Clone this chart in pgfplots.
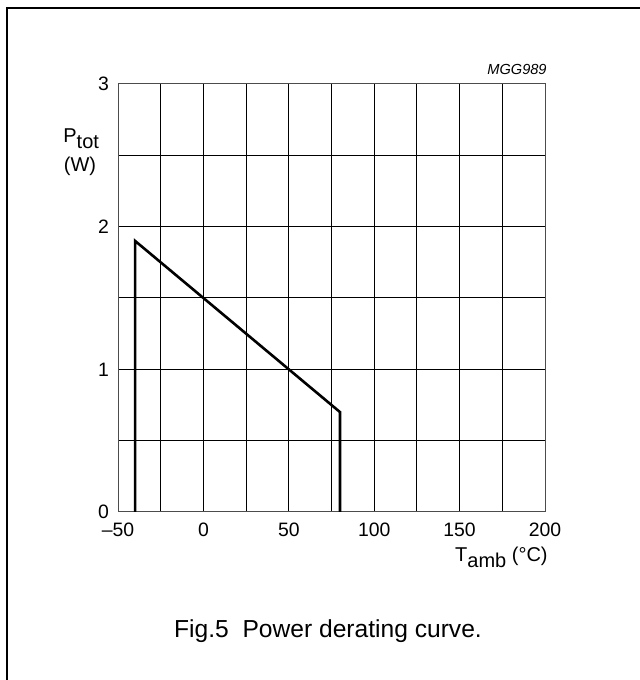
\documentclass[border=0pt]{standalone}
\usepackage{pgfplots}
\pgfplotsset{compat=1.18}
\usepackage{fontspec}
\setmainfont{Liberation Sans}

% subscript set at full size, only lowered, as in the reference
\newcommand{\lsub}[1]{\raisebox{-3pt}{#1}}

% positions below: 1 px of the reference = 0.5pt, y measured from the bottom
\begin{document}
\begin{tikzpicture}
\useasboundingbox (0,0) rectangle (320pt,340pt);
% outer frame (cropped on the right and bottom)
\draw[line width=0.6pt] (3.5pt,0pt) -- (3.5pt,336pt) -- (320pt,336pt);

\begin{axis}[
    at={(59pt,84pt)}, anchor=south west,
    scale only axis,
    width=213.5pt, height=214pt,
    xmin=-50, xmax=200, ymin=0, ymax=3,
    xtick={-50,0,50,100,150,200},
    xticklabels={–50,0,50,100,150,200},
    minor xtick={-25,25,75,125,175},
    ytick={0,1,2,3},
    minor ytick={0.5,1.5,2.5},
    grid=both,
    major grid style={black, line width=0.5pt},
    minor grid style={black, line width=0.5pt},
    axis line style={black!70, line width=0.5pt},
    major tick length=0pt, minor tick length=0pt,
    tick label style={font=\fontsize{9.7}{11}\selectfont},
    /pgf/number format/assume math mode=true,
    xticklabel style={yshift=-2pt},
    yticklabel style={xshift=-1pt},
    clip=false,
]
\addplot[black, line width=1.3pt] coordinates {
    (-40,0) (-40,1.9) (80,0.7) (80,0)
};
\end{axis}

\begin{scope}[every node/.style={inner sep=0pt, font=\fontsize{10}{12}\selectfont}]
\node[anchor=base west] at (31.5pt,268.5pt) {P\lsub{tot}};
\node[anchor=base] at (40pt,254pt) {(W)};
\node[anchor=base east] at (274pt,59pt) {T\lsub{amb} (\textdegree C)};
\node[anchor=base east, font=\itshape\fontsize{7.3}{8}\selectfont] at (273.5pt,302.5pt) {MGG989};
\node[anchor=base, font=\fontsize{12.3}{14}\selectfont] at (164pt,21pt) {Fig.5\ \ Power derating curve.};
\end{scope}
\end{tikzpicture}
\end{document}
